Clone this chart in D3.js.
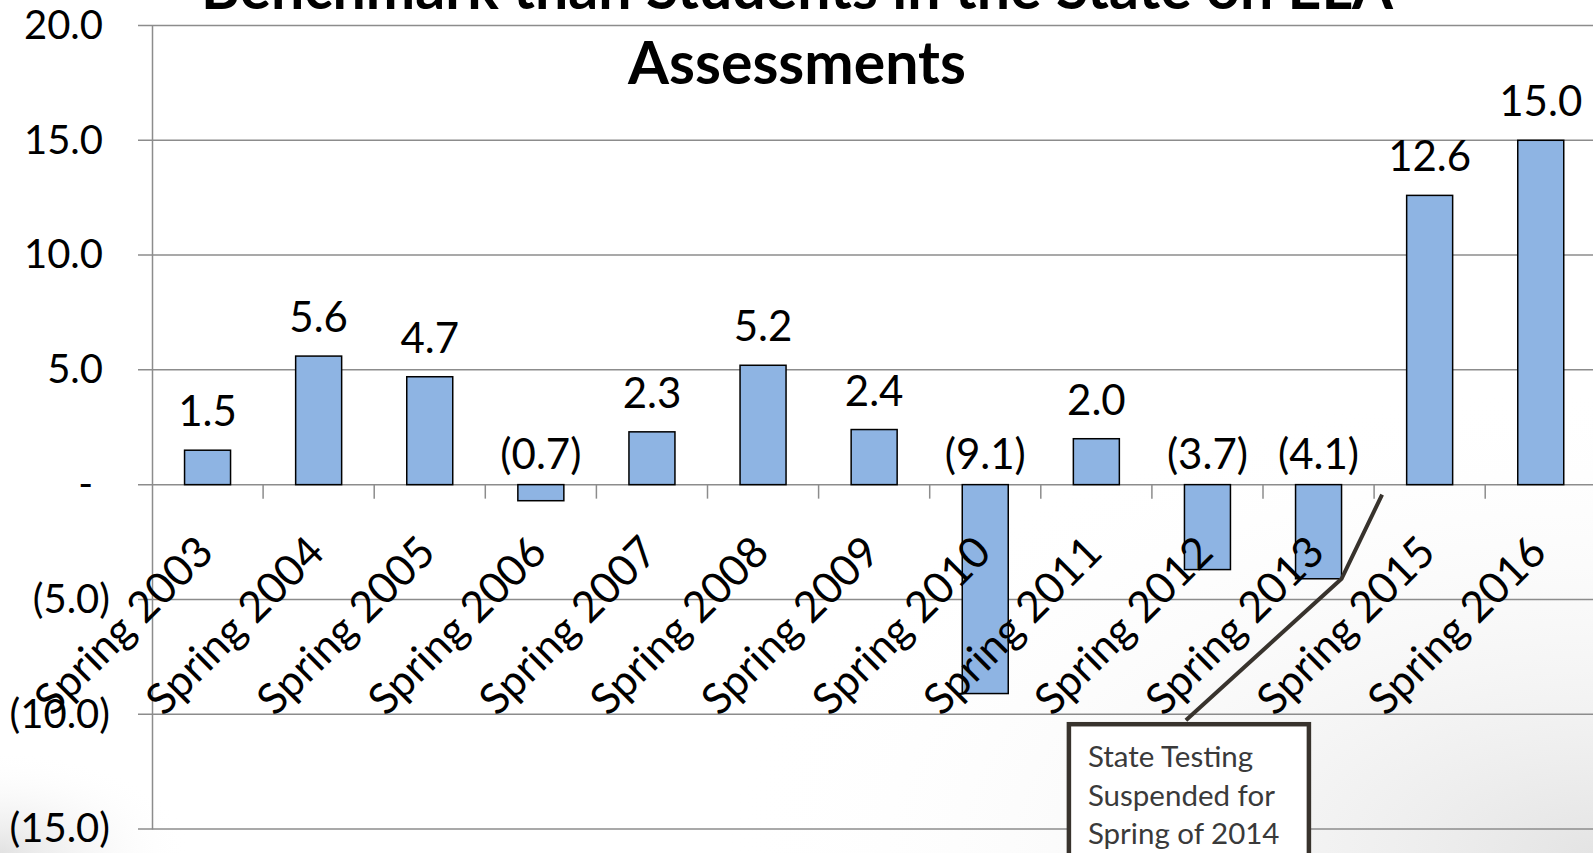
<!DOCTYPE html>
<html>
<head>
<meta charset="utf-8">
<script src="https://cdn.jsdelivr.net/npm/d3@7"></script>
<style>
  body { margin: 0; background: #fff; overflow: hidden; }
  svg { display: block; font-family: Lato, "Open Sans", sans-serif; }
</style>
</head>
<body>
<div id="chart"></div>
<script>
// chart data
let categories = ["Spring 2003", "Spring 2004", "Spring 2005", "Spring 2006", "Spring 2007",
  "Spring 2008", "Spring 2009", "Spring 2010", "Spring 2011", "Spring 2012", "Spring 2013",
  "Spring 2015", "Spring 2016"]
let values = [1.5, 5.6, 4.7, -0.7, 2.3, 5.2, 2.4, -9.1, 2.0, -3.7, -4.1, 12.6, 15.0]
let yTicks = [20, 15, 10, 5, 0, -5, -10, -15]
let titleLines = ["Benchmark than Students in the State on ELA", "Assessments"]
let noteLines = ["State Testing", "Suspended for", "Spring of 2014"]

let width = 1593, height = 853
// plot area runs off the right edge like the original slide
let plot = {left: 152, top: 25.5, bottom: 829, right: 152 + 13 * 111.1}

let svg = d3.select("#chart")
  .append("svg")
    .attr("width", width)
    .attr("height", height)

// slide background shading in the corners
let defs = svg.append("defs")
let g1 = defs.append("radialGradient").attr("id", "shadeBR")
  .attr("cx", 1).attr("cy", 1).attr("r", 0.55)
g1.append("stop").attr("offset", "0%").attr("stop-color", "#e4e4e4")
g1.append("stop").attr("offset", "100%").attr("stop-color", "#fff").attr("stop-opacity", 0)
let g2 = defs.append("radialGradient").attr("id", "shadeBL")
  .attr("cx", 0).attr("cy", 1).attr("r", 0.12)
g2.append("stop").attr("offset", "0%").attr("stop-color", "#e2e2e2")
g2.append("stop").attr("offset", "100%").attr("stop-color", "#fff").attr("stop-opacity", 0)
svg.append("rect").attr("width", width).attr("height", height).attr("fill", "#fff")
svg.append("rect").attr("width", width).attr("height", height).attr("fill", "url(#shadeBR)")
svg.append("rect").attr("width", width).attr("height", height).attr("fill", "url(#shadeBL)")

// scales
let xSlot = d3.scaleBand()
  .domain(categories)
  .range([plot.left, plot.right])
  .padding(0)
let x = d3.scaleBand()
  .domain(categories)
  .range([plot.left, plot.right])
  .paddingInner(0.586)
  .paddingOuter(0.293)
let y = d3.scaleLinear()
  .domain([-15, 20])
  .range([plot.bottom, plot.top])

// gridlines
svg.append("g")
  .selectAll("line")
  .data(yTicks)
  .enter()
  .append("line")
    .attr("x1", plot.left - 14)
    .attr("x2", width)
    .attr("y1", d => y(d))
    .attr("y2", d => y(d))
    .attr("stroke", "#8c8c8c")
    .attr("stroke-width", 1.5)

// left axis, accounting style labels
function acct(v) {
  if (v === 0) return "-"
  if (v < 0) return "(" + Math.abs(v).toFixed(1) + ")"
  return v.toFixed(1)
}
let yAxis = svg.append("g")
  .attr("transform", "translate(" + plot.left + ",0)")
  .call(d3.axisLeft(y).tickValues(yTicks).tickFormat(acct).tickSize(0).tickPadding(42))
yAxis.select(".domain")
  .attr("stroke", "#8c8c8c")
  .attr("stroke-width", 1.5)
yAxis.selectAll("text")
  .style("font-family", "Lato, sans-serif")
  .style("font-size", "40px")
  .attr("fill", "#000")
  .attr("dx", d => d === 0 ? -17 : (d > 0 ? -7 : 0))

// category ticks on the zero line
svg.append("g")
  .selectAll("line")
  .data(categories.slice(1))
  .enter()
  .append("line")
    .attr("x1", d => xSlot(d))
    .attr("x2", d => xSlot(d))
    .attr("y1", y(0))
    .attr("y2", y(0) + 14)
    .attr("stroke", "#8c8c8c")
    .attr("stroke-width", 1.5)

// bars
svg.append("g")
  .selectAll("rect")
  .data(values)
  .enter()
  .append("rect")
    .attr("x", (d, i) => x(categories[i]))
    .attr("y", d => y(Math.max(d, 0)))
    .attr("width", x.bandwidth())
    .attr("height", d => Math.abs(y(d) - y(0)))
    .attr("fill", "#8eb4e3")
    .attr("stroke", "#000")
    .attr("stroke-width", 1.5)

// value labels
svg.append("g")
  .selectAll("text")
  .data(values)
  .enter()
  .append("text")
    .attr("x", (d, i) => xSlot(categories[i]) + xSlot.bandwidth() / 2)
    .attr("y", d => d >= 0 ? y(d) - 24 : y(0) - 16)
    .attr("text-anchor", "middle")
    .style("font-size", "42px")
    .attr("fill", "#000")
    .text(d => acct(d))

// rotated category labels
svg.append("g")
  .selectAll("text")
  .data(categories)
  .enter()
  .append("text")
    .attr("transform", d => "translate(" + (xSlot(d) + xSlot.bandwidth() / 2 + 8) + "," + (y(0) + 70) + ") rotate(-45)")
    .attr("text-anchor", "end")
    .style("font-size", "43px")
    .attr("fill", "#000")
    .text(d => d)

// title (first line cut off by the top of the slide)
svg.append("g")
  .selectAll("text")
  .data(titleLines)
  .enter()
  .append("text")
    .attr("x", 797)
    .attr("y", (d, i) => 9 + i * 75)
    .attr("text-anchor", "middle")
    .style("font-size", "59px")
    .style("font-weight", "bold")
    .attr("fill", "#000")
    .text(d => d)

// callout for the missing 2014 year
let bw = x.bandwidth()
let elbow = [x("Spring 2013") + bw, y(-4.1)]
let tip = [xSlot("Spring 2013") + xSlot.bandwidth() + 8, y(0) + 10]
let boxLeft = xSlot("Spring 2012") - 83, boxTop = y(-10) + 10
svg.append("path")
  .attr("d", d3.line()([[boxLeft + 117, boxTop - 4], elbow, tip]))
  .attr("fill", "none")
  .attr("stroke", "#38332d")
  .attr("stroke-width", 4)
svg.append("rect")
  .attr("x", boxLeft)
  .attr("y", boxTop)
  .attr("width", 240)
  .attr("height", 160)
  .attr("fill", "#fff")
  .attr("stroke", "#38332d")
  .attr("stroke-width", 4.5)
svg.append("g")
  .selectAll("text")
  .data(noteLines)
  .enter()
  .append("text")
    .attr("x", boxLeft + 19)
    .attr("y", (d, i) => boxTop + 43 + i * 38.6)
    .style("font-size", "29.5px")
    .attr("fill", "#3a3a3a")
    .text(d => d)
</script>
</body>
</html>
